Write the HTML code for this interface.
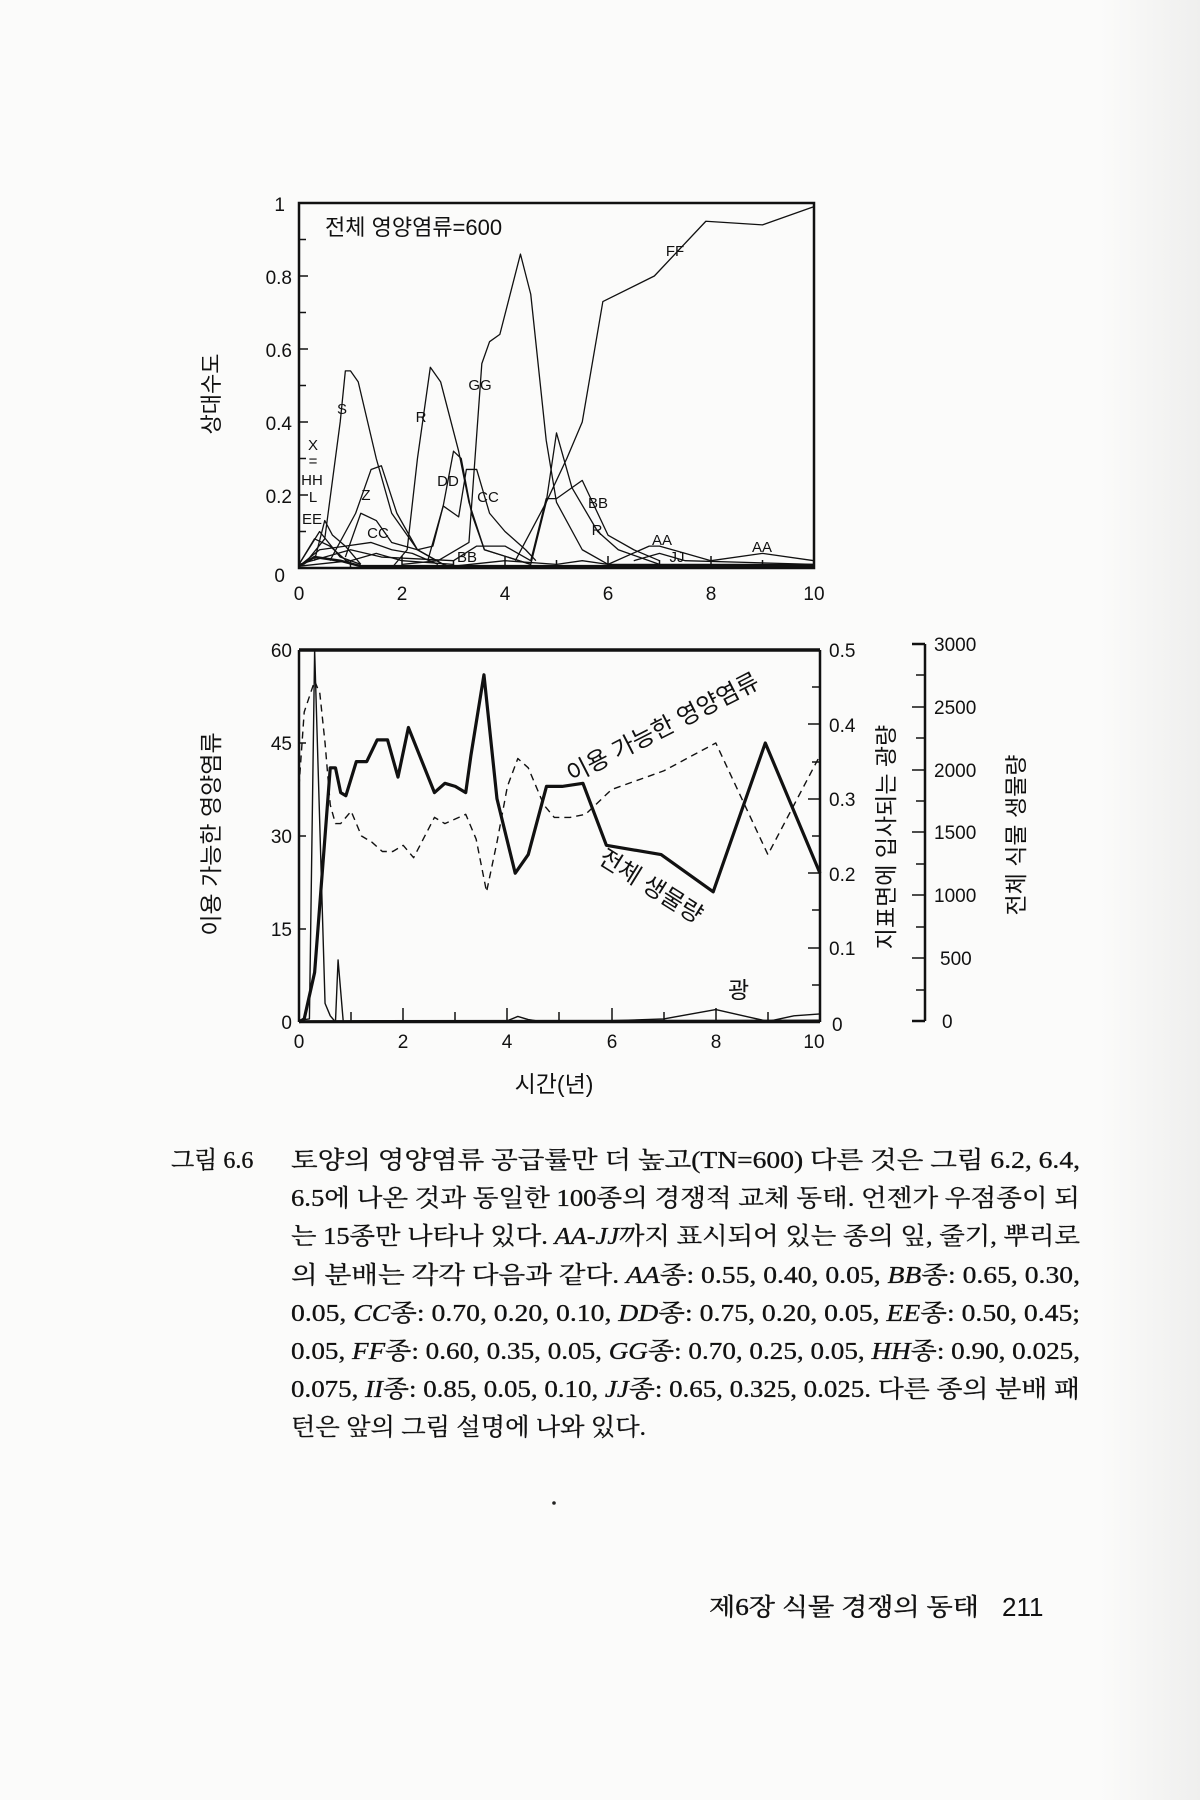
<!DOCTYPE html>
<html><head><meta charset="utf-8"><style>
html,body{margin:0;padding:0;background:#fbfbfa;}
svg{display:block}
.t{font-family:"Liberation Sans","Noto Sans CJK KR",sans-serif;fill:#111}
.s{font-family:"Liberation Serif","Noto Serif CJK SC","Noto Sans CJK KR",serif;fill:#111}
.ln{fill:none;stroke:#111;vector-effect:non-scaling-stroke;stroke-linejoin:round}
</style></head><body>
<svg width="1200" height="1800" viewBox="0 0 1200 1800" xmlns="http://www.w3.org/2000/svg">
<defs><linearGradient id="g" x1="0" x2="1" y1="0" y2="0"><stop offset="0" stop-color="#fbfbfa"/><stop offset="1" stop-color="#efefee"/></linearGradient></defs>
<rect width="1200" height="1800" fill="#fbfbfa"/>
<rect x="1100" y="0" width="100" height="1800" fill="url(#g)"/>

<!-- TOP CHART -->
<rect x="299" y="203" width="515" height="365" fill="none" stroke="#111" stroke-width="2.5"/>
<g stroke="#111" stroke-width="1.5">
<line x1="299" y1="531.5" x2="306" y2="531.5"/><line x1="299" y1="495" x2="308" y2="495"/><line x1="299" y1="458.5" x2="306" y2="458.5"/><line x1="299" y1="422" x2="308" y2="422"/><line x1="299" y1="385.5" x2="306" y2="385.5"/><line x1="299" y1="349" x2="308" y2="349"/><line x1="299" y1="312.5" x2="306" y2="312.5"/><line x1="299" y1="276" x2="308" y2="276"/><line x1="299" y1="239.5" x2="306" y2="239.5"/>
<line x1="350.5" y1="568" x2="350.5" y2="560"/><line x1="402" y1="568" x2="402" y2="556"/><line x1="453.5" y1="568" x2="453.5" y2="560"/><line x1="505" y1="568" x2="505" y2="556"/><line x1="556.5" y1="568" x2="556.5" y2="560"/><line x1="608" y1="568" x2="608" y2="556"/><line x1="659.5" y1="568" x2="659.5" y2="560"/><line x1="711" y1="568" x2="711" y2="556"/><line x1="762.5" y1="568" x2="762.5" y2="560"/>
</g>
<g class="t" font-size="19" text-anchor="end">
<text x="285" y="211">1</text><text x="292" y="284">0.8</text><text x="292" y="357">0.6</text><text x="292" y="430">0.4</text><text x="292" y="503">0.2</text><text x="285" y="582">0</text>
</g>
<g class="t" font-size="19" text-anchor="middle">
<text x="299" y="600">0</text><text x="402" y="600">2</text><text x="505" y="600">4</text><text x="608" y="600">6</text><text x="711" y="600">8</text><text x="814" y="600">10</text>
</g>
<text class="t" font-size="22" transform="translate(219,394) rotate(-90)" text-anchor="middle">상대수도</text>
<text class="t" font-size="22" x="325" y="235">전체 영양염류=600</text>

<g transform="translate(299,568) scale(51.5,-365)">
<polyline class="ln" stroke-width="1.3" points="0.1,0.01 0.5,0.08 0.8,0.4 0.9,0.54 1.0,0.54 1.15,0.51 1.5,0.3 1.8,0.15 2.3,0.05 2.8,0.01 3,0"/>
<polyline class="ln" stroke-width="1.3" points="1.8,0 2.1,0.05 2.3,0.3 2.55,0.55 2.75,0.51 3.1,0.32 3.3,0.18 3.6,0.05 4.5,0.01 4.8,0.18 5,0.37 5.3,0.22 5.8,0.1 6.2,0.05 7,0.01"/>
<polyline class="ln" stroke-width="1.3" points="2,0.01 2.7,0.02 3.3,0.07 3.55,0.56 3.7,0.62 3.9,0.64 4.3,0.86 4.5,0.75 4.8,0.35 5,0.18 5.5,0.05 6,0.01"/>
<polyline class="ln" stroke-width="1.3" points="4.2,0.02 4.8,0.18 5.2,0.3 5.5,0.4 5.9,0.73 6.9,0.8 7.9,0.95 9,0.94 10,0.99"/>
<polyline class="ln" stroke-width="1.3" points="0.6,0.02 1.1,0.15 1.4,0.27 1.6,0.28 1.9,0.15 2.3,0.05 2.8,0.01"/>
<polyline class="ln" stroke-width="1.3" points="2.5,0.02 2.8,0.17 3.0,0.32 3.15,0.3 3.35,0.15 3.6,0.05 4.5,0.01"/>
<polyline class="ln" stroke-width="1.3" points="0.9,0.03 1.2,0.15 1.5,0.13 1.8,0.07 2.3,0.05 2.6,0.06 2.8,0.17 3.1,0.14 3.25,0.27 3.45,0.27 3.7,0.15 4,0.1 4.4,0.05 4.6,0.02"/>
<polyline class="ln" stroke-width="1.3" points="0,0.01 1,0.05 1.6,0.03 3,0.02 3.45,0.06 4,0.06 4.5,0.02 4.8,0.19 5,0.19 5.5,0.24 6,0.09 6.5,0.05 7,0.02"/>
<polyline class="ln" stroke-width="1.3" points="6,0.01 6.8,0.06 7,0.06 7.5,0.04 8,0.02 9,0.04 10,0.02"/>
<polyline class="ln" stroke-width="1.3" points="6.5,0.02 7,0.04 7.5,0.02 10,0.01"/>
<polyline class="ln" stroke-width="1.3" points="0,0.01 0.4,0.1 0.8,0.03 1.2,0.01"/>
<polyline class="ln" stroke-width="1.3" points="0,0.01 0.3,0.08 0.6,0.06 1,0.01"/>
<polyline class="ln" stroke-width="1.3" points="0.3,0.02 0.5,0.13 0.65,0.09 0.9,0.06 1.2,0.01"/>
<polyline class="ln" stroke-width="1.3" points="0,0.005 0.4,0.05 0.9,0.06 1.4,0.07 1.8,0.05 2.2,0.04 2.7,0.01"/>
<polyline class="ln" stroke-width="1.3" points="0,0.005 1,0.02 1.5,0.04 2,0.02 3,0.01"/>
<polyline class="ln" stroke-width="2.5" points="0,0.005 0.3,0.03 0.8,0.02 1.2,0.005 10,0.005"/>
<polyline class="ln" stroke-width="1.3" points="3,0.005 4,0.02 5,0.01 5.5,0.02 6,0.01 10,0.01"/>
</g>
<g class="t" font-size="15" text-anchor="middle">
<text x="342" y="414">S</text><text x="421" y="422">R</text><text x="480" y="390">GG</text><text x="675" y="256">FF</text>
<text x="313" y="450">X</text><text x="313" y="466">=</text><text x="312" y="485">HH</text><text x="313" y="502">L</text><text x="312" y="524">EE</text>
<text x="366" y="500">Z</text><text x="448" y="486">DD</text><text x="488" y="502">CC</text><text x="378" y="538">CC</text>
<text x="467" y="562">BB</text><text x="598" y="508">BB</text><text x="597" y="535">R</text><text x="662" y="545">AA</text><text x="677" y="562">JJ</text><text x="762" y="552">AA</text>
</g>

<!-- BOTTOM CHART -->
<line x1="299" y1="650" x2="820" y2="650" stroke="#111" stroke-width="3.5"/>
<line x1="299" y1="650" x2="299" y2="1022" stroke="#111" stroke-width="2.5"/>
<line x1="820" y1="650" x2="820" y2="1022" stroke="#111" stroke-width="2.5"/>
<line x1="299" y1="1022" x2="820" y2="1022" stroke="#111" stroke-width="2.5"/>
<g stroke="#111" stroke-width="1.5">
<line x1="351" y1="1022" x2="351" y2="1012"/><line x1="403" y1="1022" x2="403" y2="1008"/><line x1="455" y1="1022" x2="455" y2="1012"/><line x1="507" y1="1022" x2="507" y2="1008"/><line x1="559" y1="1022" x2="559" y2="1012"/><line x1="612" y1="1022" x2="612" y2="1008"/><line x1="664" y1="1022" x2="664" y2="1012"/><line x1="716" y1="1022" x2="716" y2="1008"/><line x1="768" y1="1022" x2="768" y2="1012"/>
<line x1="299" y1="929" x2="306" y2="929"/><line x1="299" y1="836" x2="306" y2="836"/><line x1="299" y1="743" x2="306" y2="743"/>
<line x1="820" y1="985" x2="812" y2="985"/><line x1="820" y1="948" x2="808" y2="948"/><line x1="820" y1="910" x2="812" y2="910"/><line x1="820" y1="873" x2="808" y2="873"/><line x1="820" y1="836" x2="812" y2="836"/><line x1="820" y1="799" x2="808" y2="799"/><line x1="820" y1="762" x2="812" y2="762"/><line x1="820" y1="724" x2="808" y2="724"/><line x1="820" y1="687" x2="812" y2="687"/>
</g>
<g stroke="#111" stroke-width="2.5"><line x1="925" y1="644" x2="925" y2="1021"/><line x1="912" y1="644" x2="925" y2="644"/><line x1="912" y1="1021" x2="925" y2="1021"/></g>
<g stroke="#111" stroke-width="1.5">
<line x1="916" y1="675" x2="925" y2="675"/><line x1="912" y1="707" x2="925" y2="707"/><line x1="916" y1="738" x2="925" y2="738"/><line x1="912" y1="770" x2="925" y2="770"/><line x1="916" y1="801" x2="925" y2="801"/><line x1="912" y1="832" x2="925" y2="832"/><line x1="916" y1="864" x2="925" y2="864"/><line x1="912" y1="895" x2="925" y2="895"/><line x1="916" y1="927" x2="925" y2="927"/><line x1="912" y1="958" x2="925" y2="958"/><line x1="916" y1="990" x2="925" y2="990"/>
</g>
<g class="t" font-size="19" text-anchor="end">
<text x="292" y="657">60</text><text x="292" y="750">45</text><text x="292" y="843">30</text><text x="292" y="936">15</text><text x="292" y="1029">0</text>
</g>
<g class="t" font-size="19">
<text x="829" y="657">0.5</text><text x="829" y="732">0.4</text><text x="829" y="806">0.3</text><text x="829" y="881">0.2</text><text x="829" y="955">0.1</text><text x="832" y="1031">0</text>
<text x="934" y="651">3000</text><text x="934" y="714">2500</text><text x="934" y="777">2000</text><text x="934" y="839">1500</text><text x="934" y="902">1000</text><text x="940" y="965">500</text><text x="942" y="1028">0</text>
</g>
<g class="t" font-size="19" text-anchor="middle">
<text x="299" y="1048">0</text><text x="403" y="1048">2</text><text x="507" y="1048">4</text><text x="612" y="1048">6</text><text x="716" y="1048">8</text><text x="814" y="1048">10</text>
</g>
<text class="t" font-size="23" transform="translate(219,834) rotate(-90)" text-anchor="middle">이용 가능한 영양염류</text>
<text class="t" font-size="23" transform="translate(894,837) rotate(-90)" text-anchor="middle">지표면에 입사되는 광량</text>
<text class="t" font-size="23" transform="translate(1024,835) rotate(-90)" text-anchor="middle">전체 식물 생물량</text>
<text class="t" font-size="23" x="554" y="1092" text-anchor="middle">시간(년)</text>

<g transform="translate(299,1022) scale(52.1,-6.2)">
<polyline class="ln" stroke-width="1.4" stroke-dasharray="7,5" points="0,38 0.1,50 0.3,55 0.4,53 0.5,45 0.6,35 0.7,32 0.8,32 1.0,34 1.2,30 1.4,29 1.6,27.5 1.8,27.5 2,28.5 2.2,26.5 2.6,33 2.8,32 3.2,33.5 3.4,29.5 3.6,21 3.8,29 4,38 4.2,42.5 4.4,41 4.7,35 4.9,33 5.2,33 5.5,33.5 6,37.5 7,40.5 8,45 8.5,36 9,27 9.5,35 10,43"/>
<polyline class="ln" stroke-width="3.2" points="0,0 0.1,0.5 0.3,8 0.5,30 0.6,41 0.7,41 0.8,37 0.9,36.5 1.1,42 1.3,42 1.5,45.5 1.7,45.5 1.9,39.5 2.1,47.5 2.6,37 2.8,38.5 3,38 3.2,37 3.3,43 3.55,56 3.8,36 4.15,24 4.4,27 4.75,38 5.05,38 5.45,38.5 5.9,28.5 6.95,27 7.95,21 8.95,45 10,24"/>
<polyline class="ln" stroke-width="1.4" points="0,0.3 0.2,0.5 0.3,60 0.5,3 0.6,1 0.7,0 0.75,10 0.85,0 4,0.2 4.2,0.9 4.4,0.4 4.7,0 6,0.2 7,0.5 8,2 9,0.1 9.5,1 10,1.3"/>
<polyline class="ln" stroke-width="2.5" points="0,0.1 10,0.2"/>
</g>
<text class="t" font-size="24" transform="translate(572,783) rotate(-27)">이용 가능한 영양염류</text>
<text class="t" font-size="24" transform="translate(597,862) rotate(32)">전체 생물량</text>
<text class="t" font-size="23" x="728" y="998">광</text>

<!-- CAPTION -->
<g class="s" font-size="24" stroke="#111" stroke-width="0.3">
<text x="171" y="1168">그림 6.6</text>
<text x="291" y="1168" textLength="789" lengthAdjust="spacingAndGlyphs">토양의 영양염류 공급률만 더 높고(TN=600) 다른 것은 그림 6.2, 6.4,</text>
<text x="291" y="1206" textLength="789" lengthAdjust="spacingAndGlyphs">6.5에 나온 것과 동일한 100종의 경쟁적 교체 동태. 언젠가 우점종이 되</text>
<text x="291" y="1244" textLength="789" lengthAdjust="spacingAndGlyphs">는 15종만 나타나 있다. <tspan font-style="italic">AA-JJ</tspan>까지 표시되어 있는 종의 잎, 줄기, 뿌리로</text>
<text x="291" y="1283" textLength="789" lengthAdjust="spacingAndGlyphs">의 분배는 각각 다음과 같다. <tspan font-style="italic">AA</tspan>종: 0.55, 0.40, 0.05, <tspan font-style="italic">BB</tspan>종: 0.65, 0.30,</text>
<text x="291" y="1321" textLength="789" lengthAdjust="spacingAndGlyphs">0.05, <tspan font-style="italic">CC</tspan>종: 0.70, 0.20, 0.10, <tspan font-style="italic">DD</tspan>종: 0.75, 0.20, 0.05, <tspan font-style="italic">EE</tspan>종: 0.50, 0.45;</text>
<text x="291" y="1359" textLength="789" lengthAdjust="spacingAndGlyphs">0.05, <tspan font-style="italic">FF</tspan>종: 0.60, 0.35, 0.05, <tspan font-style="italic">GG</tspan>종: 0.70, 0.25, 0.05, <tspan font-style="italic">HH</tspan>종: 0.90, 0.025,</text>
<text x="291" y="1397" textLength="789" lengthAdjust="spacingAndGlyphs">0.075, <tspan font-style="italic">II</tspan>종: 0.85, 0.05, 0.10, <tspan font-style="italic">JJ</tspan>종: 0.65, 0.325, 0.025. 다른 종의 분배 패</text>
<text x="291" y="1435" textLength="355" lengthAdjust="spacingAndGlyphs">턴은 앞의 그림 설명에 나와 있다.</text>
</g>
<circle cx="554" cy="1503" r="1.8" fill="#222"/>
<text class="s" font-size="24" stroke="#111" stroke-width="0.4" x="709" y="1615" textLength="270" lengthAdjust="spacingAndGlyphs">제6장 식물 경쟁의 동태</text>
<text class="t" font-size="26" x="1002" y="1616">211</text>
</svg>
</body></html>
